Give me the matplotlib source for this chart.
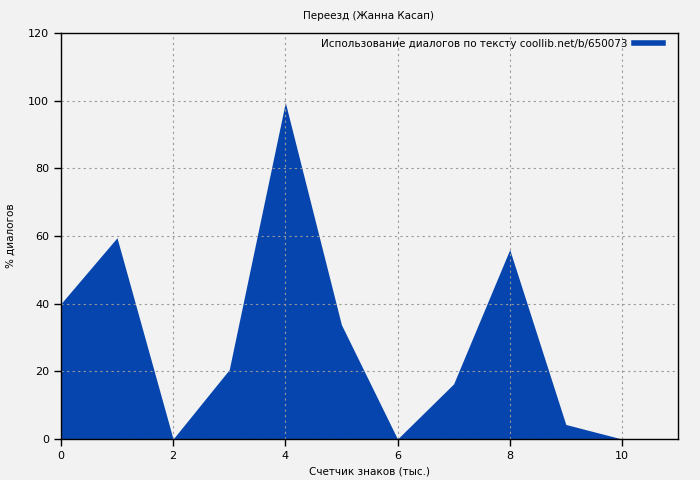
import matplotlib
matplotlib.use('Agg')
import matplotlib.pyplot as plt
from matplotlib.lines import Line2D

# chars count (thousands) vs share of dialogs
x_vals = [0, 1, 2, 3, 4, 5, 6, 7, 8, 9, 10]
dialog_pct = [40, 59.5, 0, 20.5, 99.5, 33.8, 0, 16.3, 56, 4.3, 0]

title = 'Переезд (Жанна Касап)'
legend_label = 'Использование диалогов по тексту coollib.net/b/650073'
fill_color = '#0645ad'
bg_color = '#f2f2f2'

fig = plt.figure(figsize=(7, 4.8), dpi=100, facecolor=bg_color)
ax = fig.add_axes([0.087, 0.0854, 0.8816, 0.8456], facecolor=bg_color)

ax.fill_between(x_vals, dialog_pct, 0, color=fill_color, linewidth=0)

ax.set_xlim(0, 11)
ax.set_ylim(0, 120)
ax.set_xticks(range(0, 11, 2))
ax.set_yticks(range(0, 121, 20))
ax.tick_params(direction='out', length=5, width=1, labelsize=8, color='black')
ax.grid(True, color='#999999', linestyle=(0, (2, 3)), linewidth=0.8)
ax.set_axisbelow(False)
for s in ax.spines.values():
    s.set_linewidth(1)
    s.set_zorder(5)

ax.set_xlabel('Счетчик знаков (тыс.)', fontsize=7.5)
ax.set_ylabel('% диалогов', fontsize=7.5, labelpad=9)
fig.text(0.526, 0.966, title, fontsize=7.5, ha='center', va='center')

handle = Line2D([], [], color=fill_color, linewidth=4)
ax.legend([handle], [legend_label], loc='upper right', frameon=False,
          markerfirst=False, fontsize=7.5, handlelength=2.8,
          bbox_to_anchor=(0.982, 0.997), borderaxespad=0.0,
          handletextpad=0.6)

fig.savefig('out.png', dpi=100, facecolor=bg_color)
